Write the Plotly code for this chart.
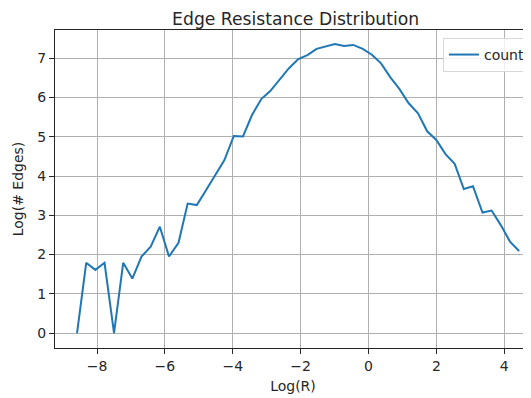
import plotly.graph_objects as go

log_r = [-8.59, -8.32, -8.05, -7.78, -7.50, -7.23, -6.96, -6.69, -6.42, -6.15,
         -5.88, -5.60, -5.33, -5.06, -4.79, -4.52, -4.25, -3.97, -3.70, -3.43,
         -3.16, -2.89, -2.62, -2.35, -2.07, -1.80, -1.53, -1.26, -0.99, -0.72,
         -0.45, -0.17, 0.10, 0.37, 0.64, 0.91, 1.18, 1.46, 1.73, 2.00,
         2.27, 2.54, 2.81, 3.08, 3.36, 3.63, 3.90, 4.17, 4.44]
log_count = [0.00, 1.79, 1.61, 1.79, 0.00, 1.79, 1.39, 1.95, 2.20, 2.71,
             1.95, 2.30, 3.30, 3.26, 3.64, 4.01, 4.40, 5.02, 5.01, 5.56,
             5.96, 6.17, 6.46, 6.74, 6.98, 7.08, 7.24, 7.30, 7.36, 7.31,
             7.34, 7.24, 7.09, 6.87, 6.52, 6.22, 5.86, 5.60, 5.14, 4.92,
             4.56, 4.31, 3.67, 3.74, 3.07, 3.12, 2.75, 2.33, 2.09]
x_ticks = [-8, -6, -4, -2, 0, 2, 4]
y_ticks = [0, 1, 2, 3, 4, 5, 6, 7]

font = "DejaVu Sans"
fig = go.Figure()
fig.add_trace(go.Scatter(x=log_r, y=log_count, mode="lines", name="count",
                         line=dict(color="#1f77b4", width=2)))

fig.update_layout(
    width=523, height=390,
    margin=dict(l=47, r=0, t=22, b=50, autoexpand=False),
    paper_bgcolor="white", plot_bgcolor="white",
    font=dict(family=font, size=14, color="#262626"),
    title=dict(text="Edge Resistance Distribution", x=0.55, xanchor="center",
               y=0.973, yanchor="middle", font=dict(size=17.2, color="#262626")),
    showlegend=True,
    legend=dict(x=0.815, y=0.975, xanchor="left", yanchor="top",
                bgcolor="rgba(255,255,255,0.8)", bordercolor="#d8d8d8", borderwidth=1,
                font=dict(size=14, color="#262626")),
    xaxis=dict(range=[-9.24, 4.79], tickvals=x_ticks, showgrid=True,
               gridcolor="#b0b0b0", gridwidth=1, zeroline=False,
               showline=True, linecolor="#262626", linewidth=1, mirror=True,
               ticks="outside", ticklen=5, tickcolor="#262626",
               title=dict(text="Log(R)", font=dict(size=14), standoff=8),
               tickfont=dict(size=14)),
    yaxis=dict(range=[-0.38, 7.72], tickvals=y_ticks, showgrid=True,
               gridcolor="#b0b0b0", gridwidth=1, zeroline=False,
               showline=True, linecolor="#262626", linewidth=1,
               ticks="outside", ticklen=5, tickcolor="#262626",
               title=dict(text="Log(# Edges)", font=dict(size=14), standoff=10),
               tickfont=dict(size=14)),
)
fig.write_html("out.html")
